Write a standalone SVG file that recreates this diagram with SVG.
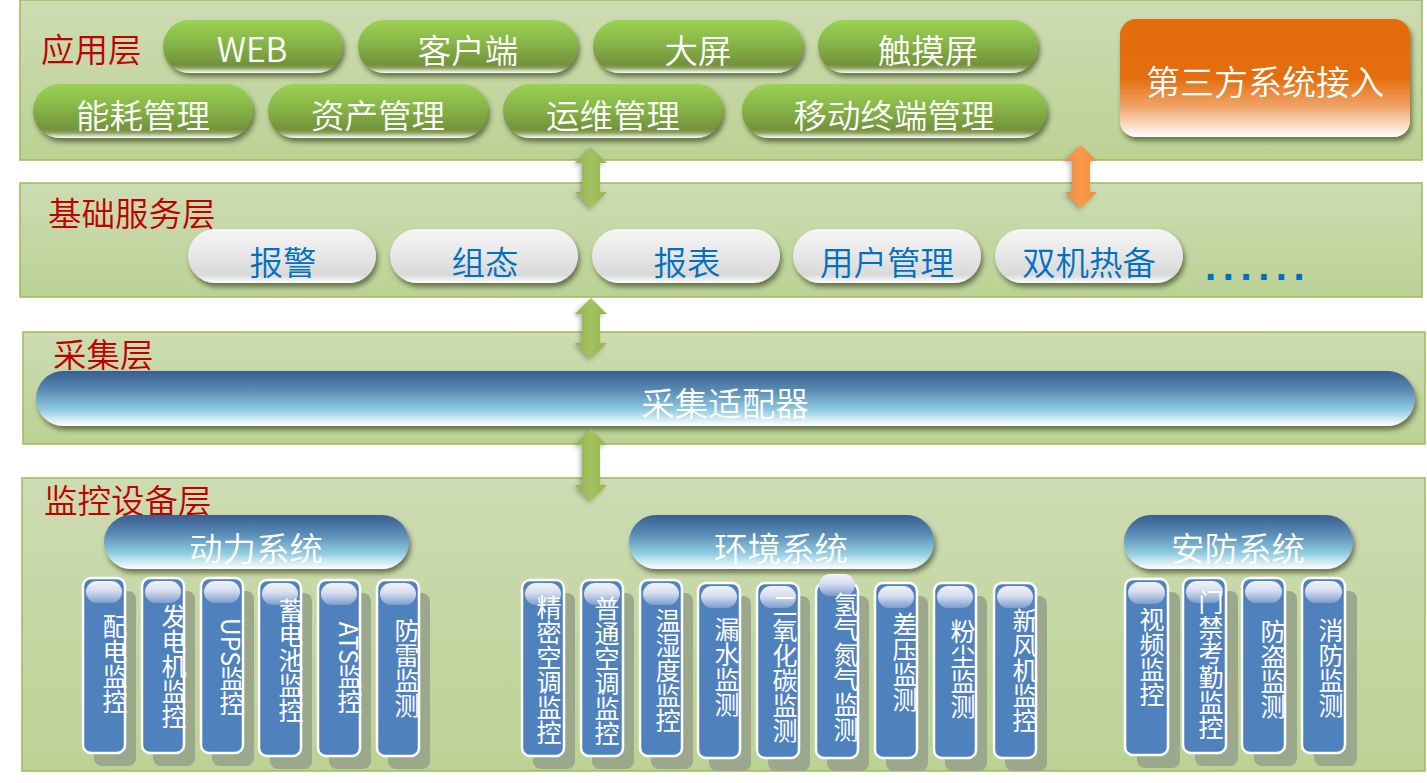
<svg xmlns="http://www.w3.org/2000/svg" width="1427" height="783" viewBox="0 0 1427 783">
<style>
.panel{fill:url(#gPanel);stroke:#9bbb59;stroke-width:1.5}
.lbl{font-family:"Noto Sans CJK SC","Liberation Sans",sans-serif;font-size:33.5px;font-weight:350;fill:#c00000;dominant-baseline:central}
.gp{fill:url(#gGreen);filter:url(#sh)}
.wp{fill:url(#gWhite);filter:url(#sh)}
.bp{fill:url(#gBlue);filter:url(#sh)}
.op{fill:url(#gOrange);filter:url(#sh)}
.t{font-family:"Noto Sans CJK SC","Liberation Sans",sans-serif;font-size:33.5px;font-weight:350;text-anchor:middle;dominant-baseline:central}
.wt{fill:#ffffff}
.blt{fill:#0070c0}
.vs{fill:#9ca88b}
.vb{fill:#4f81bd;stroke:#ffffff;stroke-width:2.5}
.vg{fill:url(#gGloss)}
.vt{font-family:"Noto Sans CJK SC","Liberation Sans",sans-serif;font-size:25px;font-weight:400;fill:#ffffff;writing-mode:vertical-rl;text-anchor:middle}
.ga{fill:url(#gArrG);filter:url(#ash)}
.oa{fill:url(#gArrO);filter:url(#ash)}
</style>
<defs>
<linearGradient id="gPanel" x1="0" y1="0" x2="0" y2="1"><stop offset="0" stop-color="#cddcb2"/><stop offset="1" stop-color="#bbd294"/></linearGradient>
<linearGradient id="gGreen" x1="0" y1="0" x2="0" y2="1"><stop offset="0" stop-color="#9bd253"/><stop offset="0.45" stop-color="#86b447"/><stop offset="0.84" stop-color="#73923b"/><stop offset="0.9" stop-color="#8aa25c"/><stop offset="1" stop-color="#ffffff"/></linearGradient>
<linearGradient id="gWhite" x1="0" y1="0" x2="0" y2="1"><stop offset="0" stop-color="#f6f6f6"/><stop offset="0.5" stop-color="#e6e6e6"/><stop offset="0.85" stop-color="#d9d9d9"/><stop offset="1" stop-color="#ffffff"/></linearGradient>
<linearGradient id="gBlue" x1="0" y1="0" x2="0" y2="1"><stop offset="0" stop-color="#385f8f"/><stop offset="0.35" stop-color="#5a8bb6"/><stop offset="0.7" stop-color="#8ecadf"/><stop offset="0.88" stop-color="#d3ebf2"/><stop offset="1" stop-color="#ffffff"/></linearGradient>
<linearGradient id="gOrange" x1="0" y1="0" x2="0" y2="1"><stop offset="0" stop-color="#e46c0a"/><stop offset="0.5" stop-color="#e46d0c"/><stop offset="0.75" stop-color="#f0a66c"/><stop offset="1" stop-color="#ffffff"/></linearGradient>
<linearGradient id="gGloss" x1="0" y1="0" x2="0" y2="1"><stop offset="0" stop-color="#f3f4fa"/><stop offset="0.45" stop-color="#d5ddee"/><stop offset="1" stop-color="#7c9dcf"/></linearGradient>
<linearGradient id="gArrG" x1="0" y1="0" x2="1" y2="0"><stop offset="0" stop-color="#8fb04c"/><stop offset="0.5" stop-color="#a3c25f"/><stop offset="1" stop-color="#93b451"/></linearGradient>
<linearGradient id="gArrO" x1="0" y1="0" x2="1" y2="0"><stop offset="0" stop-color="#f08a3a"/><stop offset="0.5" stop-color="#fa9a4c"/><stop offset="1" stop-color="#f28c3c"/></linearGradient>
<filter id="sh" x="-10%" y="-20%" width="125%" height="160%"><feDropShadow dx="2" dy="4" stdDeviation="2.5" flood-color="#2b3510" flood-opacity="0.6"/></filter>
<filter id="ash" x="-50%" y="-20%" width="200%" height="140%"><feDropShadow dx="-2" dy="2" stdDeviation="2" flood-color="#333333" flood-opacity="0.35"/></filter>
</defs>

<g id="layer-app">
<rect class="panel" x="20" y="0" width="1402" height="160"/>
<text class="lbl" x="41" y="47">应用层</text>
</g>
<g id="layer-base">
<rect class="panel" x="20" y="183" width="1402" height="114"/>
<text class="lbl" x="48" y="211">基础服务层</text>
</g>
<g id="layer-collect">
<rect class="panel" x="23" y="332" width="1402" height="112"/>
<text class="lbl" x="53" y="352">采集层</text>
</g>
<g id="layer-device">
<rect class="panel" x="22" y="478" width="1403" height="293"/>
<text class="lbl" x="44" y="498">监控设备层</text>
</g>

<g id="n-web"><rect class="gp" x="163" y="20" width="180" height="53" rx="26.5"/><text class="t wt" x="252" y="47">WEB</text></g>
<g id="n-client"><rect class="gp" x="358" y="20" width="220" height="53" rx="26.5"/><text class="t wt" x="468" y="48">客户端</text></g>
<g id="n-bigscreen"><rect class="gp" x="593" y="20" width="210" height="53" rx="26.5"/><text class="t wt" x="698" y="48">大屏</text></g>
<g id="n-touch"><rect class="gp" x="818" y="20" width="220" height="53" rx="26.5"/><text class="t wt" x="928" y="48">触摸屏</text></g>
<g id="n-energy"><rect class="gp" x="33" y="84" width="220" height="54" rx="27"/><text class="t wt" x="143" y="113">能耗管理</text></g>
<g id="n-asset"><rect class="gp" x="268" y="84" width="220" height="54" rx="27"/><text class="t wt" x="378" y="113">资产管理</text></g>
<g id="n-ops"><rect class="gp" x="503" y="84" width="220" height="54" rx="27"/><text class="t wt" x="613" y="113">运维管理</text></g>
<g id="n-mobile"><rect class="gp" x="742" y="84" width="305" height="54" rx="27"/><text class="t wt" x="894" y="113">移动终端管理</text></g>
<g id="n-third"><rect class="op" x="1120" y="19" width="290" height="118" rx="16"/><text class="t wt" x="1265" y="80" style="font-size:34px">第三方系统接入</text></g>

<g id="n-alarm"><rect class="wp" x="188" y="229" width="188" height="54" rx="27"/><text class="t blt" x="283" y="260">报警</text></g>
<g id="n-config"><rect class="wp" x="390" y="229" width="188" height="54" rx="27"/><text class="t blt" x="485" y="260">组态</text></g>
<g id="n-report"><rect class="wp" x="592" y="229" width="188" height="54" rx="27"/><text class="t blt" x="687" y="260">报表</text></g>
<g id="n-user"><rect class="wp" x="793" y="229" width="188" height="54" rx="27"/><text class="t blt" x="887" y="260">用户管理</text></g>
<g id="n-ha"><rect class="wp" x="995" y="229" width="188" height="54" rx="27"/><text class="t blt" x="1089" y="260">双机热备</text></g>
<g id="n-more"><text x="1205" y="280" style="font-family:'Liberation Sans',sans-serif;font-weight:bold;font-size:40px;letter-spacing:6.6px;fill:#0070c0">......</text></g>

<g id="n-adapter"><rect class="bp" x="36" y="371" width="1379" height="55" rx="27.5"/><text class="t wt" x="725" y="401">采集适配器</text></g>

<g id="n-power"><rect class="bp" x="104" y="515" width="305" height="54" rx="27"/><text class="t wt" x="256" y="546">动力系统</text></g>
<g id="n-env"><rect class="bp" x="629" y="515" width="305" height="54" rx="27"/><text class="t wt" x="781" y="546">环境系统</text></g>
<g id="n-sec"><rect class="bp" x="1124" y="515" width="229" height="54" rx="27"/><text class="t wt" x="1238" y="546">安防系统</text></g>

<g id="n-pd"><rect class="vs" x="94" y="591" width="42" height="175" rx="8"/><rect class="vb" x="83" y="578" width="42" height="175" rx="8"/><rect class="vg" x="86" y="581" width="36" height="22" rx="11"/><text class="vt" x="115" y="664">配电监控</text></g>
<g id="n-gen"><rect class="vs" x="153" y="591" width="42" height="175" rx="8"/><rect class="vb" x="142" y="578" width="42" height="175" rx="8"/><rect class="vg" x="145" y="581" width="36" height="22" rx="11"/><text class="vt" x="174" y="666">发电机监控</text></g>
<g id="n-ups"><rect class="vs" x="212" y="591" width="42" height="175" rx="8"/><rect class="vb" x="201" y="578" width="42" height="175" rx="8"/><rect class="vg" x="204" y="581" width="36" height="22" rx="11"/><text class="vt" x="232" y="667">UPS监控</text></g>
<g id="n-bat"><rect class="vs" x="270" y="593" width="42" height="176" rx="8"/><rect class="vb" x="259" y="580" width="42" height="176" rx="8"/><rect class="vg" x="262" y="583" width="36" height="22" rx="11"/><text class="vt" x="291" y="660">蓄电池监控</text></g>
<g id="n-ats"><rect class="vs" x="329" y="593" width="42" height="176" rx="8"/><rect class="vb" x="318" y="580" width="42" height="176" rx="8"/><rect class="vg" x="321" y="583" width="36" height="22" rx="11"/><text class="vt" x="350" y="668">ATS监控</text></g>
<g id="n-light"><rect class="vs" x="388" y="593" width="42" height="176" rx="8"/><rect class="vb" x="377" y="580" width="42" height="176" rx="8"/><rect class="vg" x="380" y="583" width="36" height="22" rx="11"/><text class="vt" x="407" y="668">防雷监测</text></g>

<g id="n-pac"><rect class="vs" x="533" y="593" width="42" height="176" rx="8"/><rect class="vb" x="522" y="580" width="42" height="176" rx="8"/><rect class="vg" x="525" y="583" width="36" height="22" rx="11"/><text class="vt" x="549" y="670">精密空调监控</text></g>
<g id="n-ac"><rect class="vs" x="592" y="593" width="42" height="176" rx="8"/><rect class="vb" x="581" y="580" width="42" height="176" rx="8"/><rect class="vg" x="584" y="583" width="36" height="22" rx="11"/><text class="vt" x="607" y="671">普通空调监控</text></g>
<g id="n-th"><rect class="vs" x="651" y="593" width="42" height="176" rx="8"/><rect class="vb" x="640" y="580" width="42" height="176" rx="8"/><rect class="vg" x="643" y="583" width="36" height="22" rx="11"/><text class="vt" x="668" y="670">温湿度监控</text></g>
<g id="n-leak"><rect class="vs" x="709" y="596" width="42" height="175" rx="8"/><rect class="vb" x="698" y="583" width="42" height="175" rx="8"/><rect class="vg" x="701" y="586" width="36" height="22" rx="11"/><text class="vt" x="727" y="667">漏水监测</text></g>
<g id="n-co2"><rect class="vs" x="768" y="596" width="42" height="175" rx="8"/><rect class="vb" x="757" y="583" width="42" height="175" rx="8"/><rect class="vg" x="760" y="586" width="36" height="22" rx="11"/><text class="vt" x="785" y="668">二氧化碳监测</text></g>
<g id="n-h2n2"><rect class="vs" x="827" y="596" width="42" height="175" rx="8"/><rect class="vb" x="816" y="583" width="42" height="175" rx="8"/><rect class="vg" x="819" y="574" width="36" height="22" rx="11"/><text class="vt" x="846" y="667">氢气氮气监测</text></g>
<g id="n-dp"><rect class="vs" x="886" y="596" width="42" height="175" rx="8"/><rect class="vb" x="875" y="583" width="42" height="175" rx="8"/><rect class="vg" x="878" y="586" width="36" height="22" rx="11"/><text class="vt" x="905" y="662">差压监测</text></g>
<g id="n-dust"><rect class="vs" x="945" y="596" width="42" height="175" rx="8"/><rect class="vb" x="934" y="583" width="42" height="175" rx="8"/><rect class="vg" x="937" y="586" width="36" height="22" rx="11"/><text class="vt" x="963" y="669">粉尘监测</text></g>
<g id="n-fresh"><rect class="vs" x="1005" y="596" width="42" height="175" rx="8"/><rect class="vb" x="994" y="583" width="42" height="175" rx="8"/><rect class="vg" x="997" y="586" width="36" height="22" rx="11"/><text class="vt" x="1025" y="670">新风机监控</text></g>

<g id="n-video"><rect class="vs" x="1137" y="592" width="43" height="176" rx="8"/><rect class="vb" x="1125" y="579" width="43" height="176" rx="8"/><rect class="vg" x="1128" y="582" width="37" height="22" rx="11"/><text class="vt" x="1152" y="657">视频监控</text></g>
<g id="n-door"><rect class="vs" x="1195" y="591" width="43" height="175" rx="8"/><rect class="vb" x="1183" y="578" width="43" height="175" rx="8"/><rect class="vg" x="1186" y="581" width="37" height="22" rx="11"/><text class="vt" x="1211" y="665">门禁考勤监控</text></g>
<g id="n-theft"><rect class="vs" x="1254" y="591" width="43" height="175" rx="8"/><rect class="vb" x="1242" y="578" width="43" height="175" rx="8"/><rect class="vg" x="1245" y="581" width="37" height="22" rx="11"/><text class="vt" x="1273" y="669">防盗监测</text></g>
<g id="n-fire"><rect class="vs" x="1314" y="591" width="43" height="175" rx="8"/><rect class="vb" x="1302" y="578" width="43" height="175" rx="8"/><rect class="vg" x="1305" y="581" width="37" height="22" rx="11"/><text class="vt" x="1331" y="668">消防监测</text></g>

<g id="connectors">
<polygon class="ga" points="591,147 607,163 600,163 600,192 607,192 591,208 575,192 582,192 582,163 575,163"/>
<polygon class="oa" points="1081,145 1097,161 1090,161 1090,192 1097,192 1081,208 1065,192 1072,192 1072,161 1065,161"/>
<polygon class="ga" points="591,298 607,314 600,314 600,343 607,343 591,359 575,343 582,343 582,314 575,314"/>
<polygon class="ga" points="591,429 607,445 600,445 600,485 607,485 591,501 575,485 582,485 582,445 575,445"/>
</g>
</svg>
